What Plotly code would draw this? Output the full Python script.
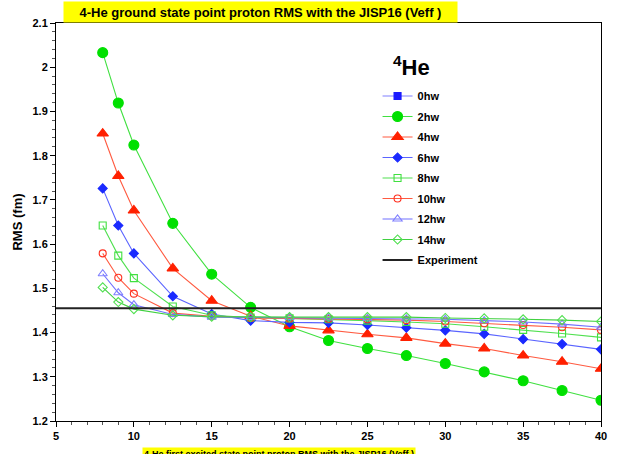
import plotly.graph_objects as go

hw = [8, 9, 10, 12.5, 15, 17.5, 20, 22.5, 25, 27.5, 30, 32.5, 35, 37.5, 40]

hw_0 = [None]
rms_0hw = [None]
rms_2hw = [2.033, 1.919, 1.824, 1.647, 1.532, 1.457, 1.413, 1.382, 1.364, 1.348, 1.330, 1.311, 1.291, 1.269, 1.247]
rms_4hw = [1.850, 1.754, 1.676, 1.545, 1.472, 1.437, 1.415, 1.405, 1.396, 1.388, 1.375, 1.364, 1.348, 1.334, 1.318]
rms_6hw = [1.726, 1.642, 1.579, 1.482, 1.442, 1.427, 1.423, 1.422, 1.417, 1.411, 1.405, 1.397, 1.385, 1.374, 1.362]
rms_8hw = [1.642, 1.574, 1.523, 1.459, 1.439, 1.434, 1.432, 1.430, 1.427, 1.424, 1.420, 1.413, 1.406, 1.398, 1.389]
rms_10hw = [1.579, 1.524, 1.488, 1.444, 1.437, 1.433, 1.432, 1.431, 1.430, 1.428, 1.425, 1.421, 1.417, 1.412, 1.406]
rms_12hw = [1.533, 1.490, 1.463, 1.441, 1.435, 1.434, 1.434, 1.433, 1.432, 1.431, 1.430, 1.427, 1.424, 1.419, 1.412]
rms_14hw = [1.502, 1.469, 1.453, 1.439, 1.436, 1.435, 1.435, 1.435, 1.435, 1.435, 1.433, 1.432, 1.430, 1.428, 1.425]

exp_x = [5, 40]
exp_rms = [1.455, 1.455]

series = [
    ("0hw", hw_0, rms_0hw, "#1a1aff", "#8080ff", "square", 7),
    ("2hw", hw, rms_2hw, "#00e000", "#40e040", "circle", 10),
    ("4hw", hw, rms_4hw, "#ff2000", "#ff5a40", "triangle-up", 10),
    ("6hw", hw, rms_6hw, "#1a2aff", "#5a64ff", "diamond", 7),
    ("8hw", hw, rms_8hw, "#40e040", "#50e050", "square-open", 7),
    ("10hw", hw, rms_10hw, "#ff3020", "#ff5a40", "circle-open", 7),
    ("12hw", hw, rms_12hw, "#8080ff", "#7070ff", "triangle-up-open", 8),
    ("14hw", hw, rms_14hw, "#50e050", "#40d040", "diamond-open", 7),
]

FONT = "Liberation Sans, Arial, Helvetica, sans-serif"

fig = go.Figure()
for i, (name, xs, ys, mc, lc, sym, sz) in enumerate(series):
    fig.add_trace(go.Scatter(
        x=xs, y=ys, name=name, mode="lines+markers",
        line=dict(color=lc, width=1.1),
        marker=dict(symbol=sym, size=sz, color=mc,
                    line=dict(color=mc, width=1.1)),
        legendgroup="g%d" % i,
        showlegend=True,
    ))

fig.add_trace(go.Scatter(
    x=exp_x, y=exp_rms, name="Experiment", mode="lines",
    line=dict(color="#222222", width=2), legendgroup="g9",
))

fig.update_layout(
    width=619, height=454,
    margin=dict(l=56, r=15, t=23, b=30),
    paper_bgcolor="white", plot_bgcolor="white",
    font=dict(family=FONT, size=11, color="black"),
    showlegend=True,
    legend=dict(
        x=0.59, y=0.853, xanchor="left", yanchor="top",
        bgcolor="rgba(0,0,0,0)", borderwidth=0,
        font=dict(family=FONT, size=11, color="black", weight="bold"),
        tracegroupgap=1.5, traceorder="grouped",
        itemwidth=30,
    ),
    xaxis=dict(
        range=[5, 40], tick0=5, dtick=5,
        showgrid=False, zeroline=False,
        showline=True, linecolor="black", linewidth=1, mirror=True,
        ticks="outside", ticklen=5, tickcolor="black",
        tickfont=dict(family=FONT, size=11, weight="bold"),
        minor=dict(dtick=1, ticks="outside", ticklen=3, tickcolor="#555555"),
    ),
    yaxis=dict(
        range=[1.2, 2.1], tick0=1.2, dtick=0.1,
        showgrid=False, zeroline=False,
        showline=True, linecolor="black", linewidth=1, mirror=True,
        ticks="outside", ticklen=5, tickcolor="black",
        tickfont=dict(family=FONT, size=11, weight="bold"),
        minor=dict(dtick=0.02, ticks="outside", ticklen=3, tickcolor="#555555"),
        title=dict(text="RMS (fm)", font=dict(family=FONT, size=13, weight="bold"), standoff=6),
    ),
    annotations=[
        dict(text="4-He ground state point proton RMS with the JISP16 (Veff )",
             xref="paper", yref="paper", x=0.375, y=1.0, xanchor="center", yanchor="bottom",
             showarrow=False, bgcolor="#ffff00", borderpad=2, width=389, height=16,
             font=dict(family=FONT, size=13, weight="bold", color="black")),
        dict(text="<sup>4</sup>He", xref="paper", yref="paper", x=0.615, y=0.893,
             xanchor="left", yanchor="middle", showarrow=False,
             font=dict(family=FONT, size=22, weight="bold", color="black")),
        dict(text="4-He first excited state point proton RMS with the JISP16 (Veff )",
             xref="paper", yref="paper", x=0.409, y=-0.066, xanchor="center", yanchor="top",
             showarrow=False, bgcolor="#ffff00", borderpad=1,
             font=dict(family=FONT, size=9, weight="bold", color="black")),
    ],
)

fig.write_html("out.html")
